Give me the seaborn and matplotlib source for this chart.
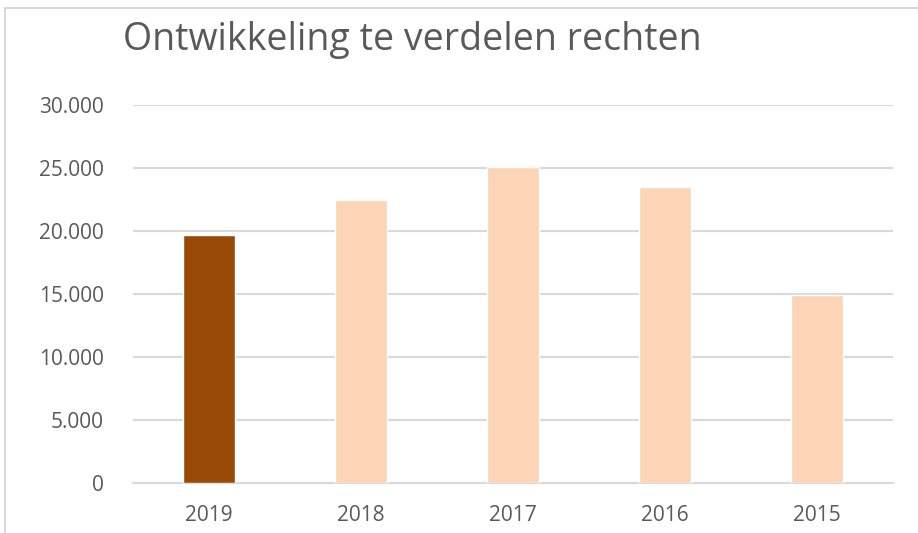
import matplotlib
matplotlib.use("Agg")
import matplotlib.pyplot as plt
import seaborn as sns
import pandas as pd
from matplotlib.patches import Rectangle
from matplotlib.ticker import FuncFormatter

years = ["2019", "2018", "2017", "2016", "2015"]
rechten = [19700, 22500, 25100, 23500, 14900]
bar_colors = ["#994A06", "#FBD5B5", "#FBD5B5", "#FBD5B5", "#FBD5B5"]

df = pd.DataFrame({"jaar": years, "rechten": rechten})

sns.set_style("white")
plt.rcParams["font.family"] = ["Open Sans", "DejaVu Sans"]
grey = "#595959"

fig = plt.figure(figsize=(9.18, 5.33), dpi=100)
ax = fig.add_axes([0.1449, 0.0938, 0.8279, 0.7092])

sns.barplot(data=df, x="jaar", y="rechten", hue="jaar", palette=bar_colors,
            legend=False, width=0.34, saturation=1, ax=ax, zorder=3)

ax.set_ylim(0, 30000)
ax.set_xlim(-0.5, 4.5)
ax.set_yticks(range(0, 30001, 5000))
ax.yaxis.set_major_formatter(FuncFormatter(lambda v, p: f"{int(v):,}".replace(",", ".")))
ax.grid(axis="y", color="#d9d9d9", linewidth=1.5, zorder=0)
ax.set_xlabel("")
ax.set_ylabel("")
for s in ["top", "right", "left"]:
    ax.spines[s].set_visible(False)
ax.spines["bottom"].set_color("#d9d9d9")
ax.spines["bottom"].set_linewidth(1.5)
ax.tick_params(axis="both", length=0, labelsize=15, colors=grey)
ax.tick_params(axis="y", pad=21)
ax.tick_params(axis="x", pad=16)

fig.text(0.134, 0.925, "Ontwikkeling te verdelen rechten", fontsize=27,
         color=grey, ha="left", va="center")

# chart frame (partly visible in the reference)
fig.patches.append(Rectangle((5 / 918, -0.1), 1.2, (533 - 8) / 533 + 0.1,
                             transform=fig.transFigure, fill=False,
                             edgecolor="#d9d9d9", linewidth=1.5))

fig.savefig("out.png", dpi=100)
